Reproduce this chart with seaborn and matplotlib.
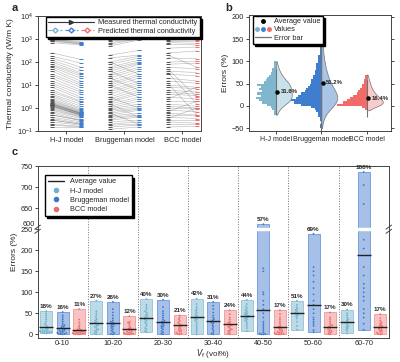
import numpy as np
import pandas as pd
import matplotlib
matplotlib.use("Agg")
import matplotlib.pyplot as plt
import seaborn as sns
from matplotlib.lines import Line2D
from matplotlib.legend_handler import HandlerTuple

sns.set_style("ticks")
plt.rcParams['font.family'] = ['Liberation Sans', 'DejaVu Sans']
plt.rcParams['axes.linewidth'] = 0.7
plt.rcParams['axes.edgecolor'] = '#444444'
plt.rcParams['xtick.major.size'] = 2
plt.rcParams['ytick.major.size'] = 2
plt.rcParams['xtick.major.width'] = 0.6
plt.rcParams['ytick.major.width'] = 0.6

# ---- data -------------------------------------------------------------
models = ["H-J model", "Bruggeman model", "BCC model"]
HJ, BR, BCC = '#74b3cf', '#3f7ecf', '#f26b6b'
fills = ['#bddbe6', '#a6c0e8', '#f7c3c3']
edges = ['#94c3d6', '#6a98de', '#f09696']

# panel a: measured vs predicted thermal conductivity (W/m K)
meas_hj = [1000, 950, 900, 850, 800, 700, 250, 180, 150, 120, 100, 80, 70, 60, 50, 40, 30, 25, 20, 15,
           12, 10, 8, 6, 5, 4, 3.5, 3, 2.5, 2.2, 2, 1.8, 1.7, 1.6, 1.5, 1.5, 1.4, 1.4, 1.3, 1.3,
           1.2, 1.2, 1.1, 1.0, 0.9, 0.8, 0.7, 0.6, 0.5, 0.4, 0.35, 0.3, 0.25, 0.2, 0.18, 0.15, 0.3, 0.5]
pred_hj = [750, 700, 650, 620, 600, 550, 130, 90, 60, 45, 35, 30, 25, 20, 15, 12, 10, 8, 6, 5,
           4, 3, 2.5, 2, 1.8, 1.5, 1.2, 1.0, 0.9, 0.8, 0.75, 0.7, 0.65, 0.62, 0.6, 0.58, 0.56, 0.6, 0.55, 0.5,
           0.52, 0.48, 0.5, 0.45, 0.42, 0.4, 0.35, 0.3, 0.28, 0.25, 0.22, 0.2, 0.18, 0.16, 0.15, 0.15, 0.2, 0.3]
meas_br = [900, 800, 700, 600, 500, 200, 150, 100, 80, 60, 50, 40, 30, 25, 20, 15, 12, 10, 8, 6,
           5, 4, 3, 2.5, 2, 1.8, 1.5, 1.2, 1, 0.9, 0.8, 0.7, 0.6, 0.5, 0.45, 0.4, 0.35, 0.3, 0.25, 0.2,
           0.18, 0.15, 0.12, 3, 10, 40, 1.5, 0.6, 20, 100]
pred_br = [1200, 1100, 1000, 1000, 900, 320, 200, 180, 150, 120, 100, 90, 80, 60, 50, 40, 30, 25, 20, 15,
           12, 10, 8, 6, 5, 4, 3, 2.5, 2, 1.5, 1.2, 1.0, 0.9, 0.8, 0.6, 0.5, 0.45, 0.4, 0.3, 0.25,
           0.2, 0.18, 0.15, 1.0, 3, 12, 0.4, 0.2, 6, 30]
meas_bcc = [1000, 900, 800, 700, 600, 400, 250, 150, 100, 80, 60, 40, 30, 20, 15, 10, 8, 6, 5, 4,
            3, 2, 1.5, 1.2, 1, 0.8, 0.6, 0.5, 0.4, 0.3, 0.25, 0.2, 0.15, 50, 12, 2.5, 0.7, 35, 200, 0.35]
pred_bcc = [1000, 950, 800, 650, 550, 450, 300, 140, 110, 90, 50, 35, 25, 15, 12, 8, 7, 5, 4, 3.5,
            2.5, 2, 1.2, 1, 0.9, 0.7, 0.5, 0.45, 0.35, 0.3, 0.22, 0.2, 0.16, 3, 0.5, 8, 2, 1.5, 60, 1]

# panel b: error histograms (5 % bins), mean and SD
hist_start = [-20, -50, -10]
hist_hj = [1, 1, 2, 3, 5, 8, 10, 12, 9, 11, 8, 10, 9, 11, 7, 6, 5, 4, 3, 2, 2, 1, 1, 1]
hist_br = [1, 1, 0, 1, 1, 2, 2, 3, 4, 6, 12, 16, 18, 15, 14, 12, 10, 9, 8, 7,
           6, 6, 5, 5, 4, 4, 3, 3, 3, 2, 2, 2, 2, 1, 1, 1, 1, 1, 1, 1,
           1, 1, 1, 1, 1, 1, 1, 0, 1, 1]
hist_bcc = [1, 3, 18, 14, 12, 10, 8, 6, 5, 4, 3, 3, 2, 2, 1, 1]
b_mean = [31.6, 51.2, 16.4]
b_sd = [50, 160, 42]

# panel c: errors (%) per volume-fraction range
groups = ['0-10', '10-20', '20-30', '30-40', '40-50', '50-60', '60-70']
err_hj = [[2, 3, 4, 5, 5, 6, 6, 7, 8, 8, 9, 10, 12, 14, 16, 18, 22, 25, 30, 35, 40, 45, 50, 55],
          [0, 2, 5, 8, 10, 12, 15, 18, 20, 22, 25, 28, 30, 33, 36, 40, 45, 50, 55, 80],
          [5, 8, 12, 15, 20, 25, 28, 32, 35, 38, 40, 42, 45, 48, 52, 55, 60, 65, 70, 84],
          [0, 5, 10, 15, 20, 25, 30, 33, 36, 38, 40, 42, 45, 48, 52, 56, 60, 65, 72, 85],
          [8, 15, 20, 25, 30, 33, 36, 38, 40, 42, 44, 46, 48, 50, 52, 55, 58, 62, 66, 72, 82],
          [11, 20, 30, 38, 42, 45, 48, 50, 52, 55, 58, 60, 64, 70, 80],
          [2, 8, 12, 15, 18, 20, 24, 28, 30, 33, 36, 40, 45, 50, 59]]
err_br = [[0, 1, 1, 2, 3, 4, 5, 6, 8, 9, 10, 12, 14, 16, 18, 20, 22, 25, 30, 35, 40, 45, 53],
          [0, 1, 3, 6, 9, 12, 15, 18, 20, 22, 24, 26, 28, 30, 33, 38, 45, 52, 60, 77],
          [0, 2, 5, 8, 12, 15, 18, 20, 22, 25, 28, 30, 32, 35, 40, 45, 50, 55, 65, 82],
          [0, 2, 5, 10, 14, 18, 22, 26, 28, 30, 33, 36, 40, 45, 52, 60, 68, 77],
          [0, 0, 1, 2, 5, 10, 15, 20, 25, 30, 40, 50, 60, 70, 80, 95, 100, 150, 157, 612],
          [5, 10, 20, 25, 30, 35, 40, 50, 60, 70, 80, 95, 110, 125, 140, 150, 160, 239],
          [11, 25, 40, 50, 60, 80, 90, 100, 110, 120, 140, 160, 204, 225, 660, 705, 736]]
err_bcc = [[0, 0, 1, 1, 2, 2, 3, 3, 4, 5, 5, 6, 7, 8, 9, 10, 12, 14, 18, 22, 28, 35, 60],
           [0, 0, 1, 1, 2, 3, 4, 5, 6, 8, 10, 12, 14, 16, 20, 25, 30, 28, 43],
           [0, 1, 2, 4, 6, 8, 10, 12, 15, 18, 20, 22, 25, 28, 32, 36, 40, 45],
           [0, 2, 5, 8, 10, 12, 15, 18, 20, 22, 25, 28, 30, 35, 40, 48, 57],
           [0, 0, 1, 1, 2, 3, 4, 5, 6, 8, 10, 12, 14, 16, 18, 20, 25, 30, 35, 40, 48, 57],
           [0, 2, 4, 6, 8, 10, 12, 15, 18, 20, 22, 25, 30, 35, 40, 52],
           [0, 1, 2, 4, 6, 8, 10, 12, 14, 16, 18, 20, 22, 25, 28, 32, 38, 48]]
avg_c = [[18, 16, 11], [27, 26, 12], [40, 30, 21], [42, 31, 24],
         [44, 57, 17], [51, 69, 17], [30, 188, 17]]

fig = plt.figure(figsize=(4, 3.62), dpi=100)
axa = fig.add_axes([0.094, 0.638, 0.4075, 0.3177])
axb = fig.add_axes([0.6225, 0.639, 0.355, 0.3196])
axc = fig.add_axes([0.094, 0.066, 0.878, 0.475])
shadow = {'color': 'black', 'alpha': 1, 'ox': 1.5, 'oy': -1.5}

# ---- a ----------------------------------------------------------------
rows = []
for i, (m, p) in enumerate([(meas_hj, pred_hj), (meas_br, pred_br), (meas_bcc, pred_bcc)]):
    for k, (v1, v2) in enumerate(zip(m, p)):
        rows.append({'x': i - 0.25, 'id': f'{i}-{k}', 'val': v1, 'model': models[i], 'kind': 'meas'})
        rows.append({'x': i + 0.25, 'id': f'{i}-{k}', 'val': v2, 'model': models[i], 'kind': 'pred'})
dfa = pd.DataFrame(rows)
axa.set_yscale('log')
sns.lineplot(data=dfa, x='x', y='val', units='id', estimator=None, color='0.35',
             lw=0.45, alpha=0.4, ax=axa)
sns.scatterplot(data=dfa[dfa.kind == 'meas'], x='x', y='val', marker='_', color='#555555',
                s=10, linewidth=0.7, ax=axa, zorder=3)
sns.scatterplot(data=dfa[dfa.kind == 'pred'], x='x', y='val', hue='model', palette=[BR, BR, BCC],
                marker='_', s=10, linewidth=0.7, ax=axa, legend=False, zorder=3)
axa.set_xlim(-0.495, 2.315)
axa.set_ylim(0.1, 1e4)
axa.set_xticks([0, 1, 2])
axa.set_xticklabels(models, fontsize=5.3)
axa.tick_params(axis='y', labelsize=5.3, pad=1.5)
axa.tick_params(axis='x', pad=2)
axa.minorticks_off()
axa.set_xlabel('')
axa.set_ylabel('Thermal conductivity (W/m K)', fontsize=6, labelpad=2)
h1 = Line2D([], [], color='#333333', marker='>', ms=3, lw=0.8)
h2 = tuple(Line2D([], [], color=c, ls='--', marker='D', mfc='white', ms=2.5, lw=0.8)
           for c in [HJ, BR, BCC])
axa.legend([h1, h2], ['Measured thermal conductivity', 'Predicted thermal conductivity'],
           handler_map={tuple: HandlerTuple(ndivide=None, pad=0.4)}, loc='upper right',
           bbox_to_anchor=(1.0, 1.0), fontsize=5.3, fancybox=False, edgecolor='black',
           framealpha=1, shadow=shadow, handlelength=6.2, borderaxespad=0.1,
           labelspacing=0.2, borderpad=0.3, handletextpad=0.6)

# ---- b ----------------------------------------------------------------
hscale = 0.037
b_fill = ['#c8e1ea', '#aac4e6', '#f8cccc']
b_bar = ['#7fb6cc', BR, BCC]
for i, (start, counts) in enumerate(zip(hist_start, [hist_hj, hist_br, hist_bcc])):
    counts = np.array(counts)
    centers = start + 5 * np.arange(len(counts)) + 2.5
    w = counts * hscale
    axb.barh(centers, w, left=i - w, height=5, color=b_bar[i], edgecolor='none', zorder=2)
    samples = np.repeat(centers, counts)
    grid = np.linspace(samples.min() - 2.5, samples.max() + 2.5, 300)
    bw = 1.06 * samples.std() * len(samples) ** (-1 / 5)
    dens = np.exp(-0.5 * ((grid[:, None] - samples[None, :]) / bw) ** 2).sum(1)
    dens = dens / dens.max() * 0.35
    axb.fill_betweenx(grid, i, i + dens, facecolor=b_fill[i], edgecolor='0.45', lw=0.5, zorder=2)
    axb.vlines(i, b_mean[i] - b_sd[i], b_mean[i] + b_sd[i], color='0.45', lw=0.8, zorder=3)
    axb.scatter(i + 0.03, b_mean[i], s=5, color='black', zorder=4)
    axb.text(i + 0.1, b_mean[i], f'{b_mean[i]}%', fontsize=4.3, weight='bold', va='center', zorder=5)
axb.set_xlim(-0.59, 2.53)
axb.set_ylim(-56, 204)
axb.set_yticks([-50, 0, 50, 100, 150, 200])
axb.set_xticks([0, 1, 2])
axb.set_xticklabels(models, fontsize=5.0)
axb.tick_params(axis='y', labelsize=5.3, pad=1.5, right=True)
axb.tick_params(axis='x', pad=2)
axb.set_ylabel('Errors (%)', fontsize=6, labelpad=2)
hb1 = Line2D([], [], color='black', marker='o', ms=2.5, lw=0)
hb2 = tuple(Line2D([], [], color=c, marker='o', ms=2.5, lw=0) for c in [HJ, BR, BCC])
hb3 = Line2D([], [], color='0.45', lw=0.9)
axb.legend([hb1, hb2, hb3], ['Average value', 'Values', 'Error bar'],
           handler_map={tuple: HandlerTuple(ndivide=None, pad=0.2)}, loc='upper left',
           bbox_to_anchor=(0.02, 1.0), fontsize=5.3, fancybox=False, edgecolor='black',
           framealpha=1, shadow=shadow, handlelength=2.2, borderaxespad=0.1,
           labelspacing=0.15, borderpad=0.3, handletextpad=0.4)


# ---- c ----------------------------------------------------------------
def brk(v):
    return v if v <= 250 else v - 350


offs = [-0.33, 0.0, 0.33]
bwid = 0.24
pt_cols = ['#6fb0cc', '#3c78c8', '#f06868']
rows = []
for g in range(len(groups)):
    for j, errs in enumerate([err_hj, err_br, err_bcc]):
        vals = errs[g]
        x = g + offs[j]
        for v in vals:
            rows.append({'x': round(x, 2), 'y': brk(v), 'model': models[j]})
        lo, hi = min(vals), max(vals)
        axc.bar(x, brk(hi) - brk(lo), bottom=brk(lo), width=bwid, color=fills[j],
                edgecolor=edges[j], lw=0.6, zorder=0.5)
        if hi > 600:
            axc.bar(x, 6, bottom=247, width=bwid + 0.05, color='white', zorder=0.6)
        axc.hlines(brk(avg_c[g][j]), x - bwid / 2 - 0.02, x + bwid / 2 + 0.02,
                   color='#222222', lw=1.0, zorder=4)
        axc.text(x, brk(hi) + 5, f'{avg_c[g][j]}%', ha='center', va='bottom',
                 fontsize=4.5, weight='bold')
dfc = pd.DataFrame(rows)
sns.swarmplot(data=dfc, x='x', y='y', hue='model', hue_order=models, palette=pt_cols,
              native_scale=True, orient='x', size=1.3, linewidth=0, ax=axc, legend=False, zorder=3)
for g in range(len(groups) - 1):
    axc.axvline(g + 0.5, color='0.45', ls=':', lw=0.7, zorder=0.2)
axc.set_xlim(-0.5, 6.5)
axc.set_ylim(-9, 400)
axc.set_xticks(range(len(groups)))
axc.set_xticklabels(groups, fontsize=5.3)
axc.set_yticks([0, 50, 100, 150, 200, 250, 300, 350, 400])
axc.set_yticklabels(['0', '50', '100', '150', '200', '250', '650', '700', '750'], fontsize=5.3)
axc.text(-0.545, 261, '600', ha='right', va='center', fontsize=5.3)
axc.tick_params(axis='y', pad=1.5)
axc.tick_params(axis='x', pad=1.5, length=0)
axc.set_xlabel(r'$V_{\rm f}$ (vol%)', fontsize=5.8)
axc.xaxis.set_label_coords(0.5, -0.052)
axc.set_ylabel('Errors (%)', fontsize=6, labelpad=2)
yb = (250 + 9) / 409
for xa in [0.0, 1.0]:
    for d in [-0.012, 0.012]:
        axc.plot([xa - 0.008, xa + 0.008], [yb + d - 0.012, yb + d + 0.012], color='#444444',
                 lw=0.7, transform=axc.transAxes, clip_on=False)
hc = [Line2D([], [], color='#222222', lw=1.0)] + \
     [Line2D([], [], color=c, marker='o', ms=3, lw=0) for c in pt_cols]
axc.legend(hc, ['Average value'] + models, loc='upper left', bbox_to_anchor=(0.02, 0.95),
           fontsize=5.2, fancybox=False, edgecolor='black', framealpha=1, shadow=shadow,
           handlelength=2.2, borderaxespad=0.1, labelspacing=0.3, borderpad=0.4)

fig.text(0.03, 0.978, 'a', fontsize=8, weight='bold', va='center')
fig.text(0.5625, 0.978, 'b', fontsize=8, weight='bold', va='center')
fig.text(0.03, 0.58, 'c', fontsize=8, weight='bold', va='center')

fig.savefig('out.png', dpi=100)
